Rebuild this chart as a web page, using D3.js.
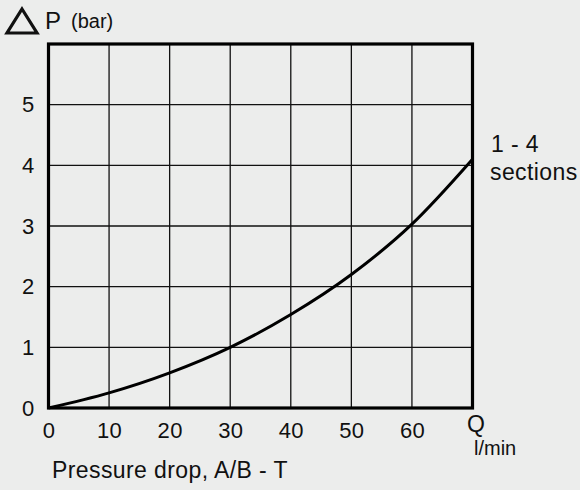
<!DOCTYPE html>
<html lang="en">
<head>
  <meta charset="UTF-8">
  <title>Pressure drop</title>
  <script src="https://d3js.org/d3.v7.min.js"></script>
  <style>
    body { margin: 0; background: #ecedec; }
    svg { display: block; background: #ecedec; }
    text { font-family: "Liberation Sans", Arial, sans-serif; fill: #111; }
    .tick text { font-size: 22px; letter-spacing: 0.3px; }
    .lbl { font-size: 23px; letter-spacing: 0.4px; }
    .grid line { stroke: #111; stroke-width: 1.3px; }
    .frame { fill: none; stroke: #000; stroke-width: 3.2px; }
    .curve { fill: none; stroke: #000; stroke-width: 3px; }
  </style>
</head>
<body>
  <svg width="580" height="490"></svg>
  <script>
    // flow Q (l/min) and pressure drop (bar)
    const flow = [0, 10, 20, 30, 40, 50, 60, 70];
    const dropBar = [0, 0.25, 0.58, 1.0, 1.54, 2.2, 3.03, 4.1];
    const xTicks = [0, 10, 20, 30, 40, 50, 60];
    const yTicks = [0, 1, 2, 3, 4, 5];

    const svg = d3.select("svg");
    const x = d3.scaleLinear().domain([0, 70]).range([48.5, 472.5]);
    const y = d3.scaleLinear().domain([0, 6]).range([408, 44]);

    // grid
    const grid = svg.append("g").attr("class", "grid");
    grid.selectAll(".v")
      .data(xTicks.slice(1))
      .enter()
      .append("line")
      .attr("x1", d => x(d)).attr("x2", d => x(d))
      .attr("y1", y(0)).attr("y2", y(6));
    grid.selectAll(".h")
      .data(yTicks.slice(1))
      .enter()
      .append("line")
      .attr("x1", x(0)).attr("x2", x(70))
      .attr("y1", d => y(d)).attr("y2", d => y(d));

    svg.append("rect")
      .attr("class", "frame")
      .attr("x", x(0)).attr("y", y(6))
      .attr("width", x(70) - x(0))
      .attr("height", y(0) - y(6));

    // axes, labels only
    const xAxis = svg.append("g")
      .attr("transform", `translate(0,${y(0)})`)
      .call(d3.axisBottom(x).tickValues(xTicks).tickFormat(d3.format("d")).tickSize(0).tickPadding(14));
    const yAxis = svg.append("g")
      .attr("transform", `translate(${x(0)},0)`)
      .call(d3.axisLeft(y).tickValues(yTicks).tickFormat(d3.format("d")).tickSize(0).tickPadding(14));
    [xAxis, yAxis].forEach(a => {
      a.select(".domain").remove();
      a.attr("font-family", null).attr("font-size", null);
      a.selectAll("text").attr("fill", "#111");
    });

    const line = d3.line()
      .x((d, i) => x(flow[i]))
      .y(d => y(d))
      .curve(d3.curveMonotoneX);
    svg.append("path")
      .attr("class", "curve")
      .attr("d", line(dropBar));

    // delta P title
    svg.append("path")
      .attr("d", "M22,9 L37,33 L7,33 Z")
      .attr("fill", "none")
      .attr("stroke", "#111")
      .attr("stroke-width", 3.2)
      .attr("stroke-linejoin", "miter");
    svg.append("text").attr("x", 45).attr("y", 29)
      .style("font-size", "24px").text("P");
    svg.append("text").attr("x", 71).attr("y", 28)
      .style("font-size", "20px").text("(bar)");

    svg.append("text").attr("class", "lbl").attr("x", 491).attr("y", 152).text("1 - 4");
    svg.append("text").attr("class", "lbl").attr("x", 490).attr("y", 180).text("sections");

    svg.append("text").attr("x", 467).attr("y", 432)
      .style("font-size", "23px").text("Q");
    svg.append("text").attr("x", 474).attr("y", 455)
      .style("font-size", "20px").text("l/min");

    svg.append("text").attr("class", "lbl").attr("x", 52).attr("y", 478)
      .text("Pressure drop, A/B - T");
  </script>
</body>
</html>
